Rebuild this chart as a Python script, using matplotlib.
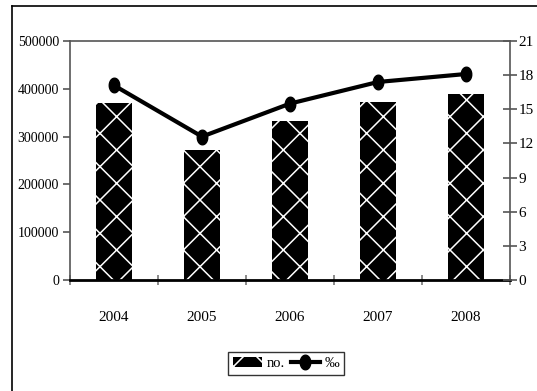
import matplotlib
matplotlib.use("Agg")
import matplotlib.pyplot as plt
import numpy as np
from matplotlib.lines import Line2D

plt.rcParams["font.family"] = ["Liberation Serif", "DejaVu Serif"]
plt.rcParams["hatch.linewidth"] = 1.1

years = ["2004", "2005", "2006", "2007", "2008"]
counts = [370000, 272000, 333000, 372000, 389000]
permille = [17.1, 12.6, 15.5, 17.4, 18.1]
left_ticks = [0, 100000, 200000, 300000, 400000, 500000]
right_ticks = [0, 3, 6, 9, 12, 15, 18, 21]

W, H = 537, 391
fig = plt.figure(figsize=(W / 100, H / 100), dpi=100)

# outer frame (left and top edges)
fig.add_artist(Line2D([12 / W, 12 / W], [0, 1 - 6 / H], transform=fig.transFigure,
                      color="black", lw=1.2))
fig.add_artist(Line2D([12 / W, 1], [1 - 6 / H, 1 - 6 / H], transform=fig.transFigure,
                      color="black", lw=1.2))

x0, x1, ytop, ybot = 70, 510, 41, 280
ax = fig.add_axes([x0 / W, 1 - ybot / H, (x1 - x0) / W, (ybot - ytop) / H])
x = np.arange(len(years))

bars = ax.bar(x, counts, width=0.41, facecolor="black", edgecolor="white",
              linewidth=0, hatch="x", label="no.", zorder=2)
ax.set_xlim(-0.5, len(years) - 0.5)
ax.set_ylim(0, 500000)
ax.set_yticks(left_ticks)
ax.set_yticklabels([str(v) for v in left_ticks])
ax.set_xticks(np.arange(len(years) + 1) - 0.5, minor=False)
ax.set_xticklabels([""] * (len(years) + 1))
ax.set_xticks(x, minor=True)
ax.set_xticklabels(years, minor=True)
ax.tick_params(axis="x", which="minor", length=0, pad=22, labelsize=11)
ax.tick_params(axis="x", which="major", length=7, direction="inout", color="#777777", width=1.2)
ax.tick_params(axis="y", length=5, color="#555555", width=1.2, labelsize=10, pad=3)

for side in ["left", "top", "right"]:
    ax.spines[side].set_color("#555555")
    ax.spines[side].set_linewidth(1.2)
ax.spines["bottom"].set_color("black")
ax.spines["bottom"].set_linewidth(2)
ax.spines["bottom"].set_zorder(3)

ax2 = ax.twinx()
ax2.set_ylim(0, 21)
ax2.set_yticks(right_ticks)
ax2.set_yticklabels([str(v) for v in right_ticks])
ax2.tick_params(axis="y", length=10, direction="inout", color="#555555", width=1.2,
                labelsize=11, pad=1)
for side in ["left", "top", "right", "bottom"]:
    ax2.spines[side].set_visible(False)

t = np.linspace(0, 2 * np.pi, 40)
ellipse = np.column_stack([0.36 * np.cos(t), 0.5 * np.sin(t)])
line, = ax2.plot(x, permille, color="black", lw=3.0, marker=ellipse, markersize=10.5,
                 markerfacecolor="black", markeredgecolor="black", label="‰", zorder=4)

leg = fig.legend([bars, line], ["no.", "‰"], loc="center",
                 bbox_to_anchor=(286 / W, 1 - 363.5 / H), ncol=2, frameon=True,
                 fancybox=False, edgecolor="black", fontsize=10.5, handlelength=2.0,
                 handletextpad=0.3, columnspacing=0.4, borderpad=0.35)
leg.get_frame().set_linewidth(1.0)

fig.savefig("out.png", dpi=100)
